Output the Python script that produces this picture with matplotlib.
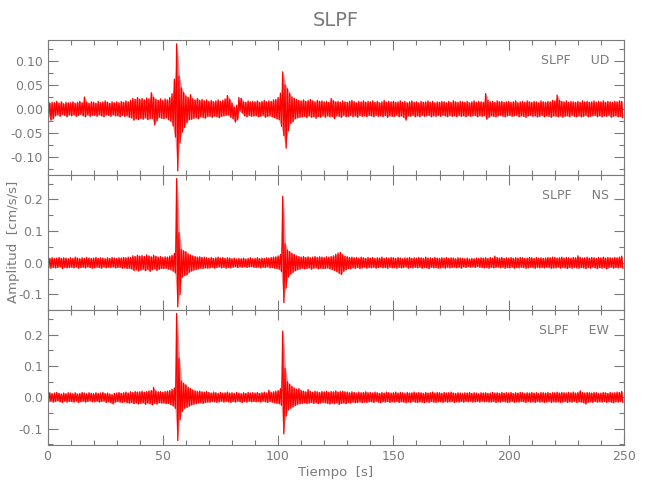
import numpy as np
import matplotlib
matplotlib.use('Agg')
import matplotlib.pyplot as plt
from matplotlib.ticker import MultipleLocator

# Envolvente de cada traza, un valor por segundo (0..249 s), en 0.001 cm/s/s
ud_max = [19, 12, 14, 13, 16, 12, 15, 11, 14, 13,
          13, 15, 12, 14, 16, 13, 25, 14, 12, 15,
          14, 12, 16, 13, 15, 17, 14, 12, 15, 13,
          15, 13, 16, 14, 17, 15, 18, 22, 20, 24,
          20, 22, 19, 23, 21, 34, 24, 20, 18, 21,
          18, 21, 19, 24, 32, 62, 135, 68, 44, 34,
          27, 24, 30, 21, 19, 22, 18, 20, 17, 19,
          16, 18, 15, 17, 19, 16, 18, 21, 28, 20,
          12, 4, 8, 24, 22, 15, 14, 17, 15, 16,
          15, 17, 14, 16, 18, 15, 17, 16, 19, 20,
          24, 33, 77, 50, 42, 32, 25, 22, 20, 18,
          17, 19, 16, 18, 20, 17, 15, 18, 16, 17,
          15, 16, 14, 22, 17, 15, 16, 14, 17, 15,
          14, 16, 18, 15, 13, 16, 15, 17, 14, 16,
          15, 17, 14, 16, 13, 15, 18, 14, 16, 15,
          16, 14, 15, 17, 14, 16, 13, 15, 17, 14,
          15, 13, 16, 14, 15, 17, 14, 16, 13, 15,
          14, 16, 15, 13, 16, 14, 17, 15, 14, 16,
          15, 14, 16, 13, 15, 17, 14, 16, 15, 14,
          32, 18, 15, 16, 14, 17, 15, 16, 14, 15,
          16, 14, 15, 17, 13, 15, 16, 14, 17, 15,
          14, 16, 15, 13, 17, 15, 14, 16, 15, 18,
          17, 29, 18, 16, 15, 17, 14, 16, 15, 14,
          16, 14, 17, 15, 16, 14, 15, 17, 14, 16,
          15, 17, 14, 16, 15, 14, 16, 15, 17, 16]
ud_min = [-12, -23, -20, -14, -12, -15, -11, -13, -16, -12,
          -14, -12, -15, -13, -11, -14, -16, -12, -15, -13,
          -13, -15, -12, -14, -16, -12, -13, -15, -12, -14,
          -14, -16, -13, -15, -14, -17, -18, -23, -20, -22,
          -19, -21, -18, -22, -20, -19, -33, -24, -17, -19,
          -20, -18, -22, -25, -35, -58, -128, -70, -48, -38,
          -28, -22, -21, -19, -18, -20, -16, -17, -19, -15,
          -15, -17, -14, -16, -18, -15, -14, -13, -12, -17,
          -20, -27, -22, -4, -8, -14, -16, -13, -15, -14,
          -14, -16, -15, -13, -17, -15, -14, -16, -18, -20,
          -22, -36, -55, -81, -45, -30, -26, -20, -18, -17,
          -16, -15, -18, -14, -17, -16, -19, -15, -17, -14,
          -17, -14, -16, -15, -20, -14, -15, -17, -13, -16,
          -15, -13, -16, -14, -17, -13, -15, -14, -16, -13,
          -14, -16, -13, -15, -14, -16, -13, -17, -14, -15,
          -15, -13, -16, -14, -17, -23, -14, -15, -13, -16,
          -14, -16, -13, -15, -14, -13, -16, -14, -15, -13,
          -15, -13, -14, -16, -13, -15, -14, -16, -13, -15,
          -14, -16, -13, -15, -14, -13, -16, -14, -15, -13,
          -21, -17, -14, -15, -16, -14, -13, -15, -16, -14,
          -13, -15, -14, -13, -16, -14, -15, -17, -14, -13,
          -15, -14, -16, -15, -13, -16, -14, -15, -17, -14,
          -15, -16, -14, -17, -15, -14, -16, -13, -15, -16,
          -14, -16, -15, -13, -16, -15, -14, -13, -16, -14,
          -16, -14, -15, -13, -17, -15, -14, -16, -15, -18]

ns_max = [17, 14, 16, 13, 15, 17, 14, 16, 15, 13,
          16, 14, 18, 15, 13, 16, 14, 17, 15, 14,
          15, 17, 14, 16, 15, 13, 16, 14, 17, 15,
          14, 16, 15, 17, 16, 18, 17, 22, 20, 24,
          21, 23, 20, 25, 22, 19, 24, 21, 18, 20,
          17, 19, 18, 21, 24, 30, 266, 95, 42, 38,
          35, 28, 25, 22, 20, 18, 19, 17, 18, 16,
          15, 17, 14, 16, 18, 15, 17, 14, 16, 15,
          13, 15, 12, 14, 13, 15, 12, 14, 16, 13,
          14, 16, 13, 15, 14, 16, 15, 17, 18, 19,
          22, 26, 210, 60, 40, 35, 30, 26, 22, 20,
          18, 20, 17, 19, 16, 18, 20, 17, 19, 18,
          17, 19, 18, 20, 22, 27, 31, 33, 25, 21,
          19, 17, 18, 16, 17, 15, 18, 16, 14, 17,
          15, 17, 14, 16, 15, 18, 14, 16, 15, 17,
          16, 14, 17, 15, 13, 16, 15, 17, 14, 16,
          15, 17, 16, 14, 18, 15, 16, 14, 17, 15,
          14, 16, 15, 17, 14, 16, 15, 13, 16, 15,
          14, 13, 15, 12, 14, 13, 15, 14, 16, 15,
          16, 14, 17, 15, 21, 16, 15, 17, 14, 16,
          15, 17, 14, 16, 15, 17, 16, 14, 15, 17,
          16, 14, 17, 15, 16, 14, 15, 17, 16, 18,
          17, 15, 16, 18, 15, 17, 16, 15, 17, 16,
          22, 17, 15, 16, 18, 15, 17, 16, 14, 17,
          16, 18, 15, 17, 16, 15, 17, 16, 18, 21]
ns_min = [-15, -17, -14, -16, -15, -13, -18, -14, -16, -15,
          -14, -16, -13, -17, -15, -14, -16, -13, -15, -17,
          -16, -14, -15, -17, -13, -16, -14, -15, -13, -16,
          -15, -14, -17, -16, -18, -17, -19, -24, -22, -26,
          -23, -20, -25, -21, -27, -22, -19, -24, -20, -18,
          -18, -17, -20, -22, -26, -32, -139, -100, -45, -40,
          -38, -30, -26, -23, -21, -19, -17, -18, -16, -17,
          -16, -14, -17, -15, -13, -16, -14, -17, -15, -16,
          -14, -12, -15, -13, -14, -12, -15, -13, -12, -14,
          -15, -13, -16, -14, -15, -13, -16, -15, -17, -18,
          -20, -28, -126, -80, -45, -36, -30, -25, -22, -20,
          -17, -19, -18, -16, -20, -17, -16, -19, -17, -18,
          -18, -16, -19, -21, -24, -28, -33, -37, -27, -22,
          -18, -19, -16, -17, -15, -18, -16, -14, -17, -15,
          -16, -14, -17, -15, -13, -16, -15, -17, -14, -16,
          -15, -17, -14, -16, -15, -13, -17, -15, -16, -14,
          -16, -14, -17, -15, -16, -18, -14, -16, -15, -17,
          -16, -15, -17, -14, -16, -15, -13, -16, -14, -17,
          -13, -15, -12, -14, -13, -15, -12, -14, -15, -16,
          -15, -17, -14, -16, -15, -13, -16, -14, -17, -15,
          -16, -14, -17, -15, -16, -14, -15, -17, -16, -14,
          -15, -17, -14, -16, -15, -16, -14, -15, -17, -16,
          -16, -14, -17, -15, -16, -18, -15, -17, -14, -16,
          -17, -15, -16, -18, -15, -17, -14, -16, -18, -15,
          -17, -15, -19, -16, -14, -17, -15, -16, -14, -17]

ew_max = [13, 15, 12, 14, 16, 13, 11, 14, 12, 15,
          14, 12, 15, 11, 13, 16, 14, 12, 15, 13,
          12, 15, 13, 14, 16, 12, 14, 11, 9, 13,
          14, 16, 13, 15, 17, 14, 18, 16, 19, 17,
          18, 20, 17, 19, 21, 22, 32, 20, 18, 19,
          17, 19, 20, 22, 26, 30, 268, 125, 52, 45,
          40, 32, 28, 24, 21, 19, 20, 18, 17, 19,
          16, 14, 17, 15, 13, 16, 14, 15, 17, 14,
          15, 13, 16, 14, 12, 15, 13, 16, 14, 15,
          14, 16, 13, 15, 17, 14, 23, 16, 18, 20,
          22, 28, 212, 93, 50, 42, 35, 30, 26, 28,
          22, 20, 18, 25, 19, 17, 20, 18, 16, 19,
          18, 20, 17, 19, 18, 21, 17, 19, 20, 18,
          17, 15, 18, 16, 14, 17, 15, 16, 18, 15,
          16, 14, 17, 15, 13, 16, 14, 17, 15, 14,
          15, 17, 14, 16, 15, 13, 16, 14, 15, 17,
          14, 16, 15, 13, 16, 14, 15, 17, 14, 16,
          15, 13, 16, 14, 15, 17, 14, 13, 15, 14,
          13, 15, 14, 16, 13, 15, 14, 12, 15, 14,
          15, 13, 14, 16, 14, 15, 13, 16, 14, 15,
          14, 16, 13, 15, 14, 16, 15, 13, 15, 14,
          16, 14, 15, 13, 16, 15, 14, 16, 13, 15,
          15, 17, 14, 16, 15, 14, 16, 15, 17, 14,
          16, 21, 15, 14, 16, 15, 14, 16, 15, 13,
          14, 16, 15, 13, 16, 14, 15, 17, 16, 19]
ew_min = [-14, -12, -15, -13, -11, -14, -16, -12, -15, -13,
          -13, -15, -12, -16, -14, -12, -15, -13, -11, -14,
          -14, -12, -15, -13, -12, -16, -14, -17, -21, -15,
          -13, -15, -16, -14, -17, -18, -16, -20, -18, -21,
          -19, -17, -22, -18, -20, -24, -19, -21, -17, -18,
          -18, -20, -19, -23, -27, -35, -138, -72, -45, -35,
          -32, -28, -24, -22, -20, -18, -17, -19, -16, -15,
          -15, -13, -14, -16, -14, -12, -15, -13, -14, -16,
          -13, -15, -12, -14, -16, -13, -15, -12, -14, -13,
          -14, -13, -15, -12, -14, -16, -13, -15, -17, -19,
          -20, -25, -117, -60, -40, -35, -30, -26, -22, -20,
          -19, -17, -20, -18, -16, -19, -17, -20, -18, -16,
          -17, -19, -21, -18, -20, -17, -22, -19, -18, -20,
          -16, -18, -15, -17, -16, -14, -17, -15, -16, -14,
          -14, -16, -13, -15, -17, -14, -15, -13, -16, -14,
          -15, -13, -16, -14, -15, -17, -14, -16, -13, -15,
          -16, -14, -15, -17, -14, -16, -13, -15, -16, -14,
          -14, -16, -13, -15, -14, -13, -16, -14, -15, -13,
          -15, -13, -14, -12, -15, -14, -13, -15, -12, -14,
          -13, -15, -14, -13, -16, -14, -15, -13, -14, -16,
          -15, -13, -16, -14, -15, -13, -14, -16, -13, -15,
          -14, -16, -13, -15, -14, -16, -15, -13, -16, -14,
          -15, -14, -16, -15, -13, -16, -14, -15, -13, -16,
          -14, -15, -17, -21, -15, -14, -16, -13, -15, -14,
          -15, -13, -16, -14, -15, -17, -14, -15, -13, -16]

estacion = 'SLPF'
componentes = ['UD', 'NS', 'EW']
limites_y = [(-0.1366, 0.143), (-0.149, 0.277), (-0.152, 0.279)]
paso_y = [(0.05, 0.025), (0.1, 0.05), (0.1, 0.05)]

gris = '#7a7a7a'
plt.rcParams['font.family'] = ['DejaVu Sans']


def traza(vmax, vmin):
    # alterna maximo y minimo de cada segundo
    t = np.arange(len(vmax))
    tt = np.empty(2 * len(t))
    yy = np.empty(2 * len(t))
    tt[0::2] = t
    tt[1::2] = t + 0.5
    yy[0::2] = np.array(vmax) / 1000.0
    yy[1::2] = np.array(vmin) / 1000.0
    return t, tt, yy


fig = plt.figure(figsize=(6.5, 5), dpi=100)
izq, ancho = 47.5 / 650, 576.5 / 650
fondos = [0.65, 0.38, 0.11]
datos = [(ud_max, ud_min), (ns_max, ns_min), (ew_max, ew_min)]

for i, comp in enumerate(componentes):
    ax = fig.add_axes([izq, fondos[i], ancho, 0.27])
    vmax, vmin = datos[i]
    t, tt, yy = traza(vmax, vmin)
    ax.fill_between(t + 0.25, np.array(vmin) / 1000.0, np.array(vmax) / 1000.0,
                    color='red', alpha=0.45, lw=0)
    ax.plot(tt, yy, color='red', lw=0.9)
    ax.set_xlim(0, 250)
    ax.set_ylim(*limites_y[i])
    ax.xaxis.set_major_locator(MultipleLocator(50))
    ax.xaxis.set_minor_locator(MultipleLocator(10))
    ax.yaxis.set_major_locator(MultipleLocator(paso_y[i][0]))
    ax.yaxis.set_minor_locator(MultipleLocator(paso_y[i][1]))
    ax.tick_params(which='both', direction='in', top=True, right=True,
                   colors=gris, labelsize=9, width=0.8)
    ax.tick_params(which='major', length=7)
    ax.tick_params(which='minor', length=3.5)
    for s in ax.spines.values():
        s.set_color(gris)
        s.set_linewidth(0.8)
    if i == 0:
        ax.yaxis.set_major_formatter(plt.FormatStrFormatter('%.2f'))
    else:
        ax.yaxis.set_major_formatter(plt.FormatStrFormatter('%.1f'))
    if i < 2:
        ax.set_xticklabels([])
    else:
        ax.set_xlabel('Tiempo  [s]', color=gris, fontsize=9.5, labelpad=2)
    ax.text(0.974, 0.845, estacion + '     ' + comp, transform=ax.transAxes,
            ha='right', va='center', color=gris, fontsize=9)

fig.text(14 / 650, 1 - 242 / 500, 'Amplitud  [cm/s/s]', rotation=90,
         ha='center', va='center', color=gris, fontsize=9.5)
fig.text(izq + ancho / 2, 1 - 20 / 500, estacion, ha='center', va='center',
         color=gris, fontsize=14)

plt.savefig('out.png', dpi=100)
